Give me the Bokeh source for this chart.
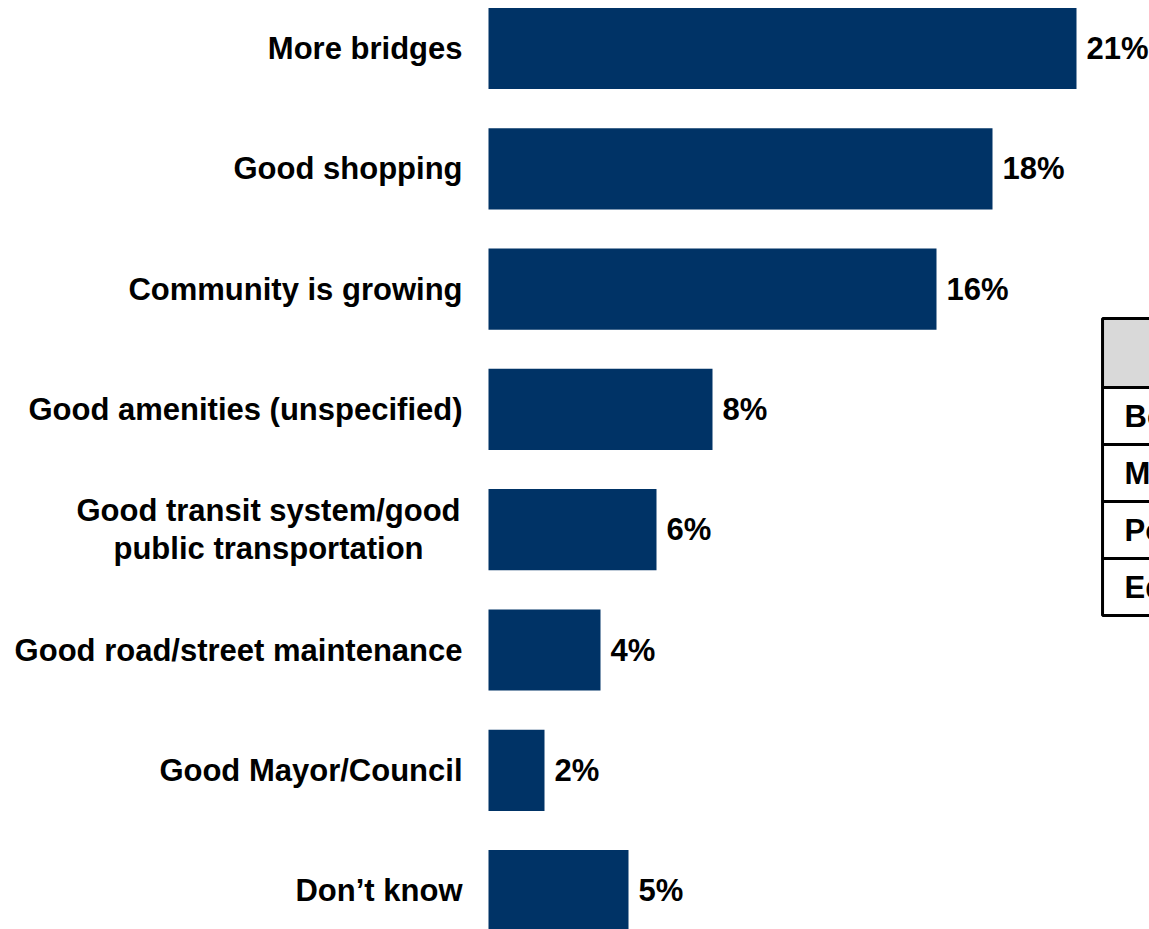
from bokeh.plotting import figure
from bokeh.models import ColumnDataSource, Range1d
from bokeh.core.properties import value
from bokeh.embed import file_html
from bokeh.resources import INLINE

# ---- data ----
categories = [
    "More bridges",
    "Good shopping",
    "Community is growing",
    "Good amenities (unspecified)",
    "Good transit system/good\npublic transportation",
    "Good road/street maintenance",
    "Good Mayor/Council",
    "Don\u2019t know",
]
percent = [21, 18, 16, 8, 6, 4, 2, 5]
value_labels = [f"{v}%" for v in percent]

table_rows = ["Bo", "M", "Po", "Ed"]

# ---- style / layout ----
FONT = value("Liberation Sans")
FS = "31px"
BAR_COLOR = "#003366"
W, H = 1149, 929
PX_PER_UNIT_X = 28.0
ZERO_PX = 488
PITCH = 120.3
FIRST_PX = 48
BAR_H = 0.675

x0 = -ZERO_PX / PX_PER_UNIT_X
y_top = -FIRST_PX / PITCH
p = figure(width=W, height=H, output_backend="svg", toolbar_location=None,
           x_range=Range1d(x0, x0 + W / PX_PER_UNIT_X),
           y_range=Range1d(y_top + H / PITCH, y_top),
           min_border=0, outline_line_color=None, background_fill_color="white",
           border_fill_color="white")
p.xaxis.visible = False
p.yaxis.visible = False
p.xgrid.visible = False
p.ygrid.visible = False

idx = list(range(len(categories)))
src = ColumnDataSource(dict(y=idx, v=percent, lab=value_labels, cat=categories,
                            zero=[0] * len(idx)))
p.hbar(y="y", left=0, right="v", height=BAR_H, source=src,
       fill_color=BAR_COLOR, line_color=None)

# value labels
p.text(x="v", y="y", text="lab", source=src, x_offset=10, text_align="left",
       text_baseline="middle", text_font=FONT, text_font_size=FS,
       text_font_style="bold", text_color="black")

# category labels (single line right aligned, multi-line centred block)
single = [i for i, c in enumerate(categories) if "\n" not in c]
multi = [i for i, c in enumerate(categories) if "\n" in c]
s1 = ColumnDataSource(dict(y=single, cat=[categories[i] for i in single],
                           zero=[0] * len(single)))
s2 = ColumnDataSource(dict(y=multi, cat=[categories[i] for i in multi],
                           zero=[0] * len(multi)))
p.text(x="zero", y="y", text="cat", source=s1, x_offset=-26, text_align="right",
       text_baseline="middle", text_font=FONT, text_font_size=FS,
       text_font_style="bold", text_color="black")
p.text(x="zero", y="y", text="cat", source=s2, x_offset=-220, text_align="center",
       text_baseline="middle", text_font=FONT, text_font_size=FS,
       text_font_style="bold", text_color="black", text_line_height=1.1)

# partial table on right (cut off by the right edge, as in the original)
t_left = 21.93
t_right = 30.0
t_top = 2.244
head_h = 0.574
row_h = 0.474
p.quad(left=[t_left], right=[t_right], top=[t_top], bottom=[t_top + head_h],
       fill_color="#d9d9d9", line_color="black", line_width=3)
rows_top = [t_top + head_h + k * row_h for k in range(len(table_rows))]
rows_bot = [t + row_h for t in rows_top]
rows_mid = [t + row_h / 2 for t in rows_top]
ts = ColumnDataSource(dict(top=rows_top, bottom=rows_bot, mid=rows_mid,
                           name=table_rows, left=[t_left] * len(table_rows),
                           right=[t_right] * len(table_rows)))
p.quad(left="left", right="right", top="top", bottom="bottom", source=ts,
       fill_color="white", line_color="black", line_width=3)
p.text(x="left", y="mid", text="name", source=ts, x_offset=22, text_align="left",
       text_baseline="middle", text_font=FONT, text_font_size=FS,
       text_font_style="bold", text_color="black")

open("out.html", "w").write(file_html(p, INLINE))
